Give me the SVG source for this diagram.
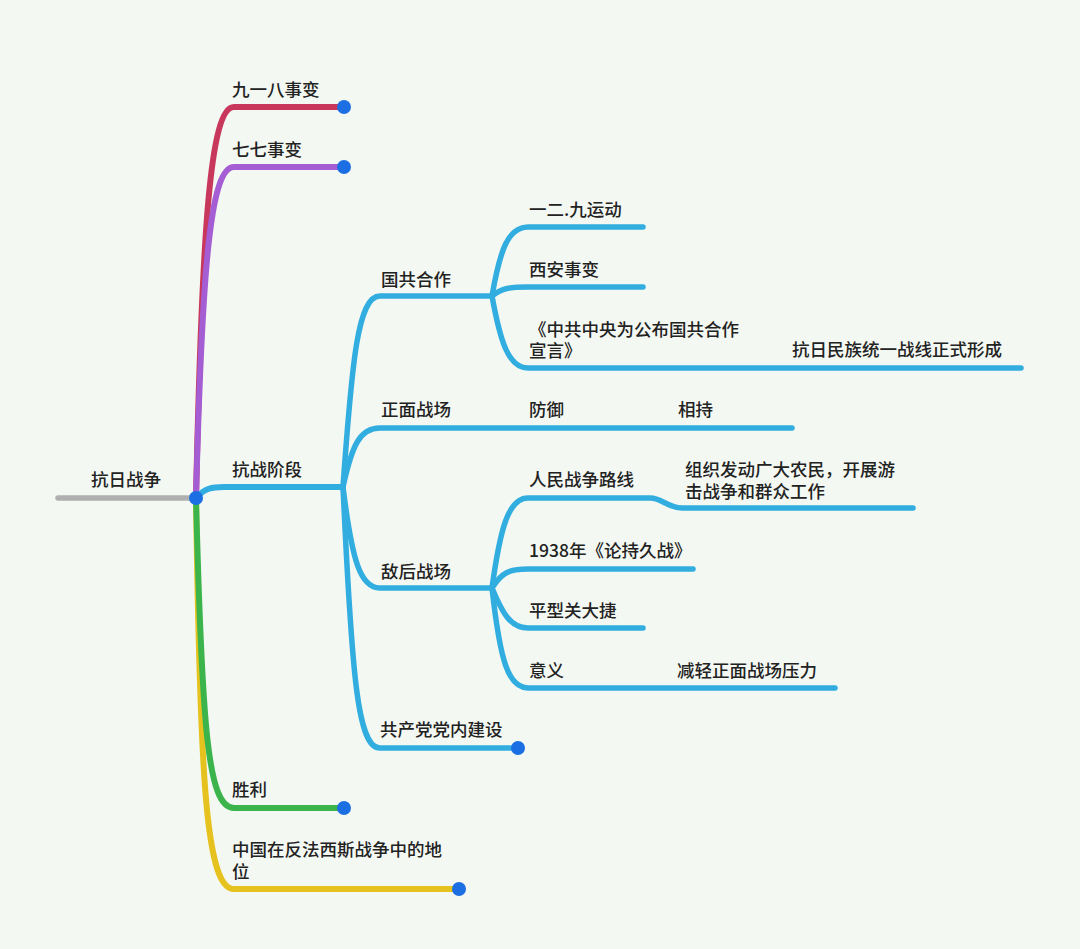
<svg xmlns="http://www.w3.org/2000/svg" width="1080" height="949" viewBox="0 0 1080 949">
<style>
text{font-family:"Noto Sans CJK SC","Noto Sans",sans-serif;font-size:17.5px;font-weight:500;fill:#222}
.l{fill:none;stroke-width:5.5;stroke-linecap:round;stroke-linejoin:round}
.m{stroke-width:6}
.red{stroke:#c8385c}.pur{stroke:#a45dd3}.blu{stroke:#31ade0}.grn{stroke:#3cb44c}.yel{stroke:#e6c21e}.gry{stroke:#b0b0b0}
.dot{fill:#1b6fe3}
</style>
<rect width="1080" height="949" fill="#f4f8f2"/>
<g id="connectors">
<path class="l gry" d="M58,498 L194,498"/>
<path class="l m yel" d="M196,498 C200,780 206,889 234,889 L459,889"/>
<path class="l m grn" d="M196,498 C202,730 208,808 234,808 L344,808"/>
<path class="l m red" d="M196,498 C202,230 210,107 234,107 L344,107"/>
<path class="l m pur" d="M196,498 C202,270 210,167 234,167 L344,167"/>
<path class="l m blu" d="M196,498 C205,488 212,487 224,487 L343,487"/>
<path class="l blu" d="M343,487 C352,360 358,296 380,296 L492,296"/>
<path class="l blu" d="M343,487 C352,445 360,428 380,428 L792,428"/>
<path class="l blu" d="M343,487 C352,560 360,588 380,588 L492,588"/>
<path class="l blu" d="M343,487 C352,680 358,748 380,748 L518,748"/>
<path class="l blu" d="M492,296 C500,250 508,227 528,227 L643,227"/>
<path class="l blu" d="M492,296 C502,288 510,287 528,287 L643,287"/>
<path class="l blu" d="M492,296 C500,340 508,368 528,368 L1021,368"/>
<path class="l blu" d="M492,588 C500,530 508,498 528,498 L650,498 C662,498 668,508 682,508 L913,508"/>
<path class="l blu" d="M492,588 C502,572 510,569 528,569 L693,569"/>
<path class="l blu" d="M492,588 C502,612 510,628 528,628 L643,628"/>
<path class="l blu" d="M492,588 C500,660 508,688 528,688 L835,688"/>
</g>
<g id="root"><text x="91" y="486">抗日战争</text><circle class="dot" cx="196" cy="498" r="7"/></g>
<g id="n918"><text x="232" y="96">九一八事变</text><circle class="dot" cx="344" cy="107" r="7"/></g>
<g id="n77"><text x="232" y="156">七七事变</text><circle class="dot" cx="344" cy="167" r="7"/></g>
<g id="nstage"><text x="232" y="476">抗战阶段</text></g>
<g id="ngczz"><text x="381" y="286">国共合作</text></g>
<g id="n129"><text x="529" y="216">一二.九运动</text></g>
<g id="nxa"><text x="529" y="276">西安事变</text></g>
<g id="nxy"><text x="529" y="336">《中共中央为公布国共合作<tspan x="529" dy="21">宣言》</tspan></text></g>
<g id="ntzx"><text x="792" y="356">抗日民族统一战线正式形成</text></g>
<g id="nzm"><text x="381" y="416">正面战场</text></g>
<g id="nfy"><text x="529" y="416">防御</text></g>
<g id="nxc"><text x="678" y="416">相持</text></g>
<g id="ndh"><text x="381" y="578">敌后战场</text></g>
<g id="nrm"><text x="529" y="486">人民战争路线</text></g>
<g id="nzz"><text x="685" y="476">组织发动广大农民，开展游<tspan x="685" dy="22">击战争和群众工作</tspan></text></g>
<g id="nlcj"><text x="529" y="557">1938年《论持久战》</text></g>
<g id="npxg"><text x="529" y="617">平型关大捷</text></g>
<g id="nyy"><text x="529" y="677">意义</text></g>
<g id="njq"><text x="677" y="677">减轻正面战场压力</text></g>
<g id="ngcd"><text x="380" y="736">共产党党内建设</text><circle class="dot" cx="518" cy="748" r="7"/></g>
<g id="nsl"><text x="232" y="796">胜利</text><circle class="dot" cx="344" cy="808" r="7"/></g>
<g id="ndw"><text x="232" y="856">中国在反法西斯战争中的地<tspan x="232" dy="22">位</tspan></text><circle class="dot" cx="459" cy="889" r="7"/></g>
</svg>
